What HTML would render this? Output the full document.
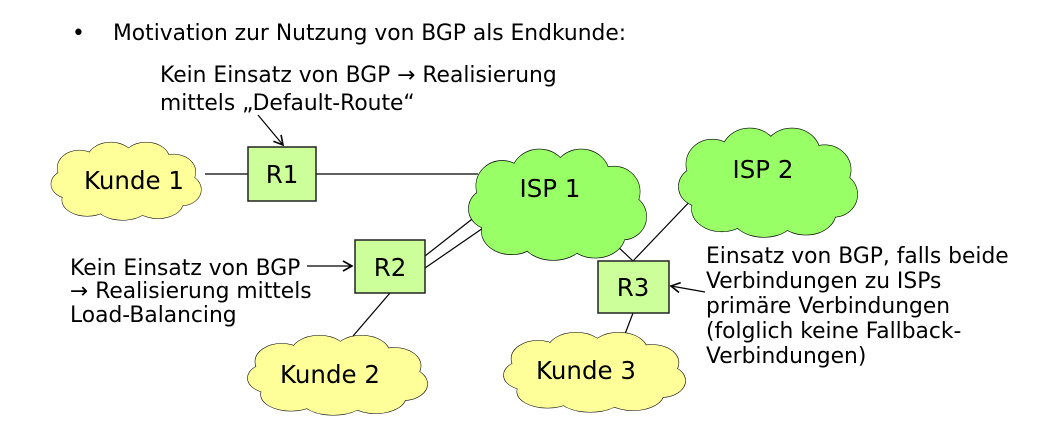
<!DOCTYPE html>
<html><head><meta charset="utf-8"><style>
html,body{margin:0;padding:0;background:#fff;}
svg{display:block;}
text{font-family:"DejaVu Sans","Liberation Sans",sans-serif;fill:#000;}
</style></head><body>
<svg width="1045" height="443" viewBox="0 0 1045 443" xmlns="http://www.w3.org/2000/svg">
<defs>
<g id="cs">
<ellipse cx="40" cy="35" rx="28" ry="22"/><ellipse cx="80" cy="25" rx="30" ry="22"/><ellipse cx="125" cy="25" rx="30" ry="22"/><ellipse cx="160" cy="40" rx="28" ry="22"/><ellipse cx="170" cy="62" rx="25" ry="20"/><ellipse cx="140" cy="78" rx="32" ry="20"/><ellipse cx="95" cy="80" rx="35" ry="20"/><ellipse cx="50" cy="75" rx="32" ry="20"/><ellipse cx="28" cy="55" rx="24" ry="18"/>
</g>
<g id="cf">
<use href="#cs"/><ellipse cx="100" cy="50" rx="72" ry="36"/>
</g>
<marker id="ar" markerWidth="12" markerHeight="12" refX="10" refY="6" orient="auto" markerUnits="userSpaceOnUse"><path d="M1,1 L10,6 L1,11" fill="none" stroke="#000" stroke-width="1.6"/></marker>
</defs>

<g stroke="#000" stroke-width="1.2" fill="none">
<line x1="205" y1="174" x2="248" y2="174"/>
<line x1="316" y1="174" x2="478" y2="174"/>
<line x1="425" y1="256" x2="476" y2="216"/>
<line x1="425" y1="268" x2="486" y2="226"/>
<line x1="390" y1="293" x2="353" y2="336"/>
<line x1="600" y1="230" x2="633" y2="261"/>
<line x1="695" y1="196" x2="633" y2="261"/>
<line x1="633" y1="313" x2="625" y2="334"/>
</g>

<g transform="translate(48,140) scale(0.785,0.8)"><use href="#cs" fill="#ffff99" stroke="#000" stroke-width="1.2" vector-effect="non-scaling-stroke"/><use href="#cf" fill="#ffff99" stroke="none"/></g>
<g transform="translate(465,146) scale(0.93,1.14)"><use href="#cs" fill="#99ff66" stroke="#000" stroke-width="1.2" vector-effect="non-scaling-stroke"/><use href="#cf" fill="#99ff66" stroke="none"/></g>
<g transform="translate(675,125) scale(0.935,1.12)"><use href="#cs" fill="#99ff66" stroke="#000" stroke-width="1.2" vector-effect="non-scaling-stroke"/><use href="#cf" fill="#99ff66" stroke="none"/></g>
<g transform="translate(244,333) scale(0.94,0.82)"><use href="#cs" fill="#ffff99" stroke="#000" stroke-width="1.2" vector-effect="non-scaling-stroke"/><use href="#cf" fill="#ffff99" stroke="none"/></g>
<g transform="translate(500,330) scale(0.95,0.82)"><use href="#cs" fill="#ffff99" stroke="#000" stroke-width="1.2" vector-effect="non-scaling-stroke"/><use href="#cf" fill="#ffff99" stroke="none"/></g>

<g fill="#ccff99" stroke="#222" stroke-width="1.5">
<rect x="248" y="147" width="68" height="54"/>
<rect x="355" y="240" width="70" height="53"/>
<rect x="598" y="261" width="71" height="52"/>
</g>

<g font-size="24.5" text-anchor="middle">
<text x="282" y="183">R1</text>
<text x="390" y="276">R2</text>
<text x="633" y="296">R3</text>
<text x="134" y="189">Kunde 1</text>
<text x="550" y="197">ISP 1</text>
<text x="763" y="178">ISP 2</text>
<text x="330" y="383">Kunde 2</text>
<text x="586" y="379">Kunde 3</text>
</g>

<g stroke="#000" stroke-width="1.2" fill="none" marker-end="url(#ar)">
<line x1="258" y1="115" x2="283" y2="145"/>
<line x1="307" y1="266" x2="352" y2="266"/>
<line x1="705" y1="292" x2="671" y2="286"/>
</g>

<g font-size="21.8">
<text x="72" y="40">•</text>
<text x="113" y="40">Motivation zur Nutzung von BGP als Endkunde:</text>
<text x="160" y="82">Kein Einsatz von BGP → Realisierung</text>
<text x="160" y="110">mittels „Default-Route“</text>
<text x="70" y="275">Kein Einsatz von BGP</text>
<text x="70" y="298">→ Realisierung mittels</text>
<text x="70" y="322">Load-Balancing</text>
<text x="706" y="263">Einsatz von BGP, falls beide</text>
<text x="706" y="288">Verbindungen zu ISPs</text>
<text x="706" y="313">primäre Verbindungen</text>
<text x="706" y="338">(folglich keine Fallback-</text>
<text x="706" y="363">Verbindungen)</text>
</g>
</svg>
</body></html>
